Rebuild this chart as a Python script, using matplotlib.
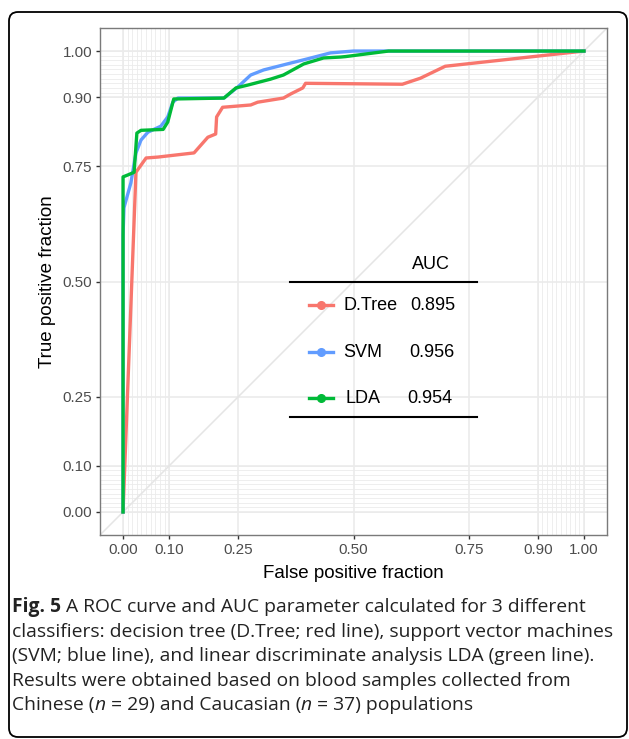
import matplotlib
matplotlib.use("Agg")
import matplotlib.pyplot as plt
import matplotlib.patches as mpatches
from matplotlib.transforms import IdentityTransform
import numpy as np

# ---- data ----
tree_fpr = [0, 0.028, 0.05, 0.076, 0.154, 0.184, 0.201, 0.203, 0.216, 0.277, 0.292,
            0.348, 0.364, 0.39, 0.396, 0.606, 0.645, 0.699, 1.0]
tree_tpr = [0, 0.737, 0.768, 0.77, 0.779, 0.813, 0.82, 0.857, 0.878, 0.883, 0.889,
            0.898, 0.907, 0.92, 0.93, 0.928, 0.941, 0.967, 1.0]

svm_fpr = [0, 0, 0.002, 0.017, 0.028, 0.039, 0.054, 0.082, 0.097, 0.108, 0.119, 0.219,
           0.249, 0.277, 0.305, 0.364, 0.4, 0.45, 0.5, 1.0]
svm_tpr = [0, 0.6, 0.66, 0.714, 0.779, 0.807, 0.824, 0.837, 0.857, 0.889, 0.898, 0.898,
           0.922, 0.948, 0.959, 0.974, 0.983, 0.996, 1.0, 1.0]

lda_fpr = [0, 0, 0.01, 0.024, 0.03, 0.039, 0.087, 0.097, 0.11, 0.219, 0.245, 0.27,
           0.32, 0.348, 0.392, 0.435, 0.472, 0.483, 0.576, 1.0]
lda_tpr = [0, 0.727, 0.731, 0.737, 0.822, 0.828, 0.83, 0.846, 0.896, 0.898, 0.92, 0.926,
           0.939, 0.948, 0.972, 0.985, 0.987, 0.988, 1.0, 1.0]

classifiers = ["D.Tree", "SVM", "LDA"]
auc_values = ["0.895", "0.956", "0.954"]
colors = ["#F8766D", "#619CFF", "#00BA38"]

major_ticks = [0, 0.1, 0.25, 0.5, 0.75, 0.9, 1.0]
tick_labels = ["0.00", "0.10", "0.25", "0.50", "0.75", "0.90", "1.00"]
minor_ticks = list(np.round(np.arange(0, 0.101, 0.01), 2)) + list(np.round(np.arange(0.9, 1.001, 0.01), 2))

W, H = 629, 739
fig = plt.figure(figsize=(W / 100, H / 100), dpi=100)
fig.patch.set_facecolor("white")

PF = "Liberation Sans"
L, R, T, B = 100, 607, 28, 535
ax = fig.add_axes([L / W, 1 - B / H, (R - L) / W, (B - T) / H])
ax.set_xlim(-0.05, 1.05)
ax.set_ylim(-0.05, 1.05)
ax.set_facecolor("white")

# grid
for v in minor_ticks:
    ax.axvline(v, color="#EBEBEB", lw=0.6, zorder=0)
    ax.axhline(v, color="#EBEBEB", lw=0.6, zorder=0)
for v in major_ticks:
    ax.axvline(v, color="#EBEBEB", lw=1.2, zorder=0)
    ax.axhline(v, color="#EBEBEB", lw=1.2, zorder=0)

# diagonal
ax.axline((0, 0), (1, 1), color="#E5E5E5", lw=1.1, zorder=1)

series = [(tree_fpr, tree_tpr), (svm_fpr, svm_tpr), (lda_fpr, lda_tpr)]
for (fx, ty), c in zip(series, colors):
    ax.plot(fx, ty, color=c, lw=2.4, zorder=3, solid_joinstyle="round")

ax.set_xticks(major_ticks)
ax.set_xticklabels(tick_labels)
ax.set_yticks(major_ticks)
ax.set_yticklabels(tick_labels)
ax.tick_params(direction="out", length=3.2, width=1.0, color="#333333",
               labelcolor="#4D4D4D", labelsize=11, pad=2.5)
for lab in ax.get_xticklabels() + ax.get_yticklabels():
    lab.set_fontfamily(PF)
for s in ax.spines.values():
    s.set_color("#7A7A7A")
    s.set_linewidth(1.0)

ax.set_xlabel("False positive fraction", fontsize=13.5, family=PF, labelpad=6)
ax.set_ylabel("True positive fraction", fontsize=13.5, family=PF, labelpad=5)

# custom legend table
ax.plot([0.363, 0.768], [0.499, 0.499], color="black", lw=1.5, zorder=4)
ax.plot([0.363, 0.768], [0.206, 0.206], color="black", lw=1.5, zorder=4)
ax.text(0.667, 0.536, "AUC", fontsize=13, family=PF, ha="center", va="center", zorder=5)
row_y = [0.449, 0.347, 0.247]
label_x = [0.478, 0.478, 0.483]
val_x = [0.623, 0.621, 0.617]
for name, val, c, y, lx, vx in zip(classifiers, auc_values, colors, row_y, label_x, val_x):
    ax.plot([0.404, 0.456], [y, y], color=c, lw=2.4, zorder=5)
    ax.plot([0.430], [y], "o", color=c, ms=5.5, zorder=6)
    ax.text(lx, y, name, fontsize=13, family=PF, ha="left", va="center", zorder=5)
    ax.text(vx, y, val, fontsize=13, family=PF, ha="left", va="center", zorder=5)

# outer rounded box
box = mpatches.FancyBboxPatch((9, 2), 618, 725,
                              boxstyle="round,pad=0,rounding_size=9",
                              facecolor="none", edgecolor="black", lw=1.3,
                              transform=IdentityTransform())
fig.add_artist(box)

# caption
CF = "Open Sans"
cap_size = 13.9
caption_lines = [
    [("Fig. 5", "bold", "normal"), (" A ROC curve and AUC parameter calculated for 3 different", "normal", "normal")],
    [("classifiers: decision tree (D.Tree; red line), support vector machines", "normal", "normal")],
    [("(SVM; blue line), and linear discriminate analysis LDA (green line).", "normal", "normal")],
    [("Results were obtained based on blood samples collected from", "normal", "normal")],
    [("Chinese (", "normal", "normal"), ("n", "normal", "italic"), (" = 29) and Caucasian (", "normal", "normal"),
     ("n", "normal", "italic"), (" = 37) populations", "normal", "normal")],
]
baselines = [612, 637, 661, 686, 710]
renderer = fig.canvas.get_renderer()
for pieces, by in zip(caption_lines, baselines):
    x = 12
    for txt, wt, st in pieces:
        t = fig.text(x / W, 1 - by / H, txt, fontsize=cap_size, family=CF, weight=wt,
                     style=st, ha="left", va="baseline", color="#222222")
        bb = t.get_window_extent(renderer=renderer)
        x = x + bb.width

fig.savefig("out.png", dpi=100, facecolor="white")
